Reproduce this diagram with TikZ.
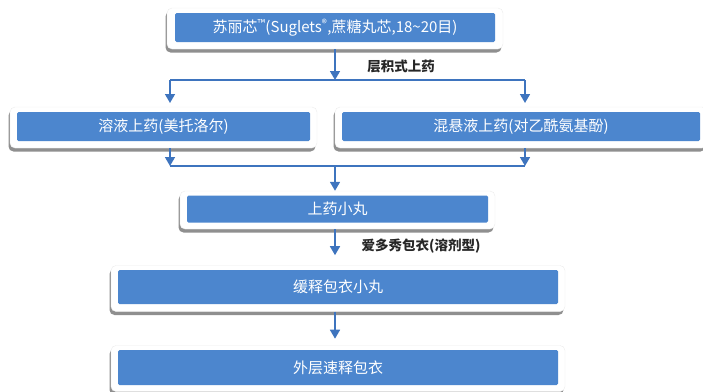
\documentclass[tikz,border=0pt]{standalone}
\usepackage{fontspec}
\setmainfont{Noto Sans CJK SC}
\usetikzlibrary{arrows.meta,shadows}
\definecolor{boxblue}{RGB}{76,134,206}
\definecolor{linkblue}{RGB}{62,116,190}
\tikzset{
  frame/.style={fill=white,draw=gray!15,rounded corners=5pt,
    drop shadow={shadow xshift=-1.5pt,shadow yshift=-3.5pt,opacity=0.8,fill=black!55}},
  blok/.style={fill=boxblue,text=white,rounded corners=1.5pt,font=\fontsize{15}{15}\selectfont},
  link/.style={draw=linkblue,line width=1.6pt},
  arr/.style={link,-{Triangle[width=10pt,length=9pt]}},
  lab/.style={font=\bfseries\fontsize{13.5}{14}\selectfont,text=black!85}
}
\begin{document}
\begin{tikzpicture}[x=1pt,y=-1pt]
   \useasboundingbox (0,0) rectangle (703,391);
   \node[frame,minimum width=336pt,minimum height=41pt] (f1) at (335,28.5) {};
   \node[blok,minimum width=320pt,minimum height=29pt] (b1) at (335,27.5)
     {苏丽芯\textsuperscript{™}(Suglets\textsuperscript{®},蔗糖丸芯,18\textasciitilde20目)};
   \node[frame,minimum width=307pt,minimum height=41pt] (f2) at (163.5,127.5) {};
   \node[blok,minimum width=293pt,minimum height=29pt] (b2) at (163.5,126.5) {溶液上药(美托洛尔)};
   \node[frame,minimum width=372pt,minimum height=41pt] (f3) at (521,127.5) {};
   \node[blok,minimum width=358pt,minimum height=29pt] (b3) at (521,126.5) {混悬液上药(对乙酰氨基酚)};
   \node[frame,minimum width=315pt,minimum height=38pt] (f4) at (337.5,210) {};
   \node[blok,minimum width=301pt,minimum height=27pt] (b4) at (337.5,209) {上药小丸};
   \node[frame,minimum width=454pt,minimum height=46pt] (f5) at (338,288.5) {};
   \node[blok,minimum width=440pt,minimum height=34pt] (b5) at (338,287) {缓释包衣小丸};
   \node[frame,minimum width=454pt,minimum height=46pt] (f6) at (338,368.5) {};
   \node[blok,minimum width=440pt,minimum height=35pt] (b6) at (338,367.5) {外层速释包衣};

   \coordinate (sl) at (170,80);
   \coordinate (sr) at (525,80);
   \coordinate (ml) at (170,166);
   \coordinate (mr) at (525,166);
   \draw[arr] (f1.south) -- (f1.south |- sl);
   \draw[link] (sl) -- (sr);
   \draw[arr] (sl) -- ++(0,23);
   \draw[arr] (sr) -- ++(0,23);
   \draw[arr] (f2.south -| ml) -- (ml);
   \draw[arr] (f3.south -| mr) -- (mr);
   \draw[link] (ml) -- (mr);
   \draw[arr] (ml -| f1.south) -- (f4.north -| f1.south);
   \draw[arr] (f4.south -| f1.south) -- ++(0,26);
   \draw[arr] (f5.south -| f1.south) -- ++(0,27);

   \node[lab] (l1) at (401,66) {层积式上药};
   \node[lab] (l2) at (421,246) {爱多秀包衣(溶剂型)};
\end{tikzpicture}
\end{document}
